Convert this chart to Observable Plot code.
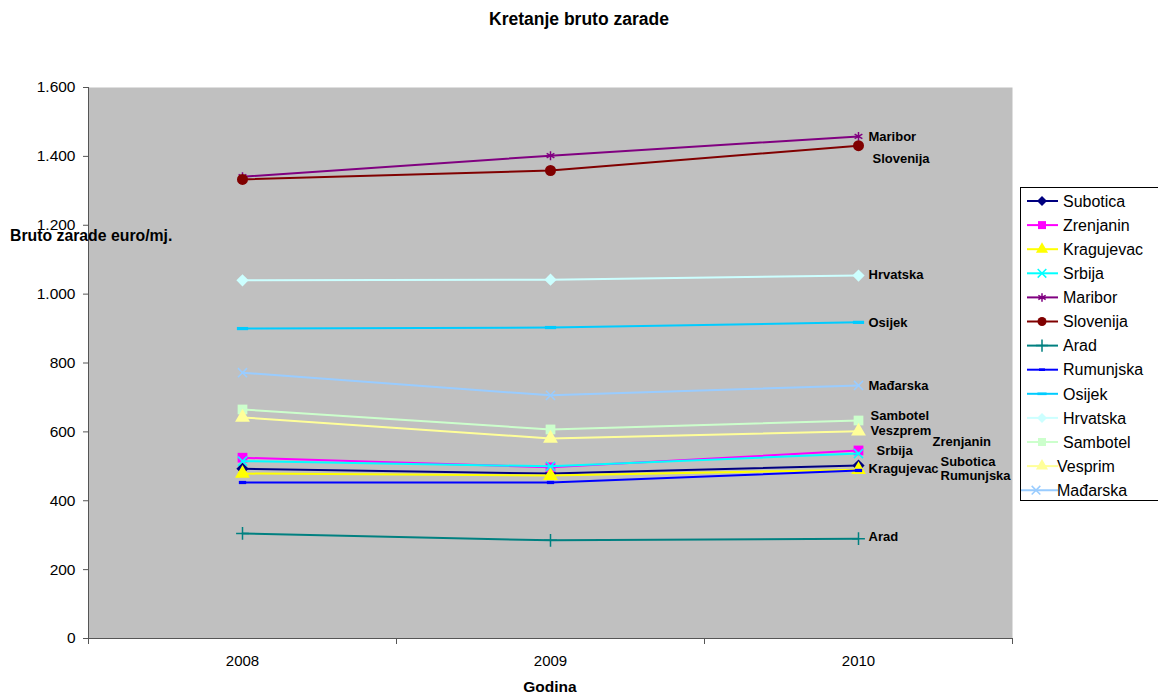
<!DOCTYPE html>
<html><head><meta charset="utf-8">
<script src="https://cdn.jsdelivr.net/npm/d3@7"></script>
<script src="https://cdn.jsdelivr.net/npm/@observablehq/plot@0.6"></script>
<style>
body{margin:0;background:#fff;font-family:"Liberation Sans",Arial,sans-serif;color:#000;}
#wrap{position:relative;width:1158px;height:696px;overflow:hidden;background:#fff;}
#chart{position:absolute;left:0;top:0;}
.title{position:absolute;left:0;width:1158px;top:9px;text-align:center;font-weight:bold;font-size:17.5px;}
.ylab{position:absolute;left:10px;top:227px;font-weight:bold;font-size:15.8px;white-space:nowrap;}
.xlab{position:absolute;left:450px;width:200px;top:678px;text-align:center;font-weight:bold;font-size:15.5px;}
#legend{position:absolute;left:1020px;top:187px;}
</style></head><body>
<div id="wrap">
<div id="chart"></div>
<div class="title">Kretanje bruto zarade</div>
<div class="ylab">Bruto zarade euro/mj.</div>
<div class="xlab">Godina</div>
<div id="legend"></div>
</div>
<script>
// ---- data ----
const years = [2008, 2009, 2010];
const seriesNames = ["Subotica","Zrenjanin","Kragujevac","Srbija","Maribor","Slovenija","Arad","Rumunjska","Osijek","Hrvatska","Sambotel","Vesprim","Mađarska"];
const pointLabels = ["Subotica","Zrenjanin","Kragujevac","Srbija","Maribor","Slovenija","Arad","Rumunjska","Osijek","Hrvatska","Sambotel","Veszprem","Mađarska"];
const subotica   = [493, 479, 502];
const zrenjanin  = [525, 497, 546];
const kragujevac = [479, 473, 490];
const srbija     = [515, 500, 537];
const maribor    = [1341, 1402, 1458];
const slovenija  = [1333, 1359, 1431];
const arad       = [305, 285, 290];
const rumunjska  = [453, 453, 488];
const osijek     = [900, 903, 918];
const hrvatska   = [1040, 1042, 1054];
const sambotel   = [665, 607, 633];
const vesprim    = [642, 581, 602];
const madjarska  = [772, 706, 735];
const yTicks = [0, 200, 400, 600, 800, 1000, 1200, 1400, 1600];
const seriesValues = [subotica, zrenjanin, kragujevac, srbija, maribor, slovenija, arad, rumunjska, osijek, hrvatska, sambotel, vesprim, madjarska];

// ---- styles ----
const colors = ["#000080","#FF00FF","#FFFF00","#00FFFF","#800080","#800000","#008080","#0000FF","#00CCFF","#CCFFFF","#CCFFCC","#FFFF99","#99CCFF"];
const dashShort = {draw(ctx, size){ const s = Math.sqrt(size); const w = s*0.75, h = s*0.33; ctx.rect(-w/2, -h/2, w, h); }};
const dashLong  = {draw(ctx, size){ const s = Math.sqrt(size); const w = s*1.15, h = s*0.33; ctx.rect(-w/2, -h/2, w, h); }};
const symbols = ["diamond2","square","triangle","times","asterisk","circle","plus",dashShort,dashLong,"diamond2","square","triangle","times"];
const filled  = [true,true,true,false,false,true,false,true,true,true,true,true,false];
const labelOffsets = [[82,-4],[74,-9],[10,-1],[18,-3],[10,0],[14,13],[10,-2],[82,5],[10,0],[10,-1],[12,-5],[12,0],[10,0]];

const fmt = d3.formatLocale({decimal: ",", thousands: ".", grouping: [3], currency: ["", ""]}).format(",");

const marks = [
  Plot.frame({fill: "#C0C0C0", stroke: "none"}),
];
seriesNames.forEach((name, i) => {
  const rows = years.map((y, j) => ({year: y, value: seriesValues[i][j], label: pointLabels[i]}));
  marks.push(Plot.line(rows, {x: "year", y: "value", stroke: colors[i], strokeWidth: 2}));
  marks.push(Plot.dot(rows, filled[i]
    ? {x: "year", y: "value", symbol: () => symbols[i], r: 5.5, fill: colors[i], stroke: "none"}
    : {x: "year", y: "value", symbol: () => symbols[i], r: 4.2, fill: "none", stroke: colors[i], strokeWidth: 1.5}));
});
seriesNames.forEach((name, i) => {
  const last = [{year: years[2], value: seriesValues[i][2], label: pointLabels[i]}];
  marks.push(Plot.text(last, {x: "year", y: "value", text: "label", dx: labelOffsets[i][0], dy: labelOffsets[i][1],
    textAnchor: "start", fontWeight: "bold", fontSize: 13, fill: "#000"}));
});
marks.push(
  Plot.ruleX([2007.5], {stroke: "#555", strokeWidth: 1}),
  Plot.ruleY([0], {stroke: "#555", strokeWidth: 1}),
  Plot.axisY({ticks: yTicks, tickFormat: fmt, tickSize: 5, tickPadding: 8, fontSize: 15.5, label: null, stroke: "#555"}),
  Plot.axisX({ticks: years, tickSize: 0, tickPadding: 17, tickFormat: d => String(d), fontSize: 15, label: null}),
  Plot.axisX({ticks: [2007.5, 2008.5, 2009.5, 2010.5], tickSize: 6, tickFormat: () => "", label: null, stroke: "#555"})
);

const chart = Plot.plot({
  width: 1158, height: 696,
  marginLeft: 88, marginRight: 146, marginTop: 87, marginBottom: 58,
  x: {domain: [2007.5, 2010.5]},
  y: {domain: [0, 1600]},
  style: {fontFamily: "'Liberation Sans', Arial, sans-serif", background: "transparent", color: "#000"},
  marks
});
document.getElementById("chart").appendChild(chart);

// ---- legend ----
const symMap = {diamond2: d3.symbolDiamond2, square: d3.symbolSquare, triangle: d3.symbolTriangle, times: d3.symbolTimes, asterisk: d3.symbolAsterisk, circle: d3.symbolCircle, plus: d3.symbolPlus};
const lg = d3.select("#legend").append("svg").attr("width", 140).attr("height", 315);
lg.append("rect").attr("x", 0.5).attr("y", 0.5).attr("width", 150).attr("height", 313).attr("fill", "#fff").attr("stroke", "#000");
seriesNames.forEach((name, i) => {
  const cy = 14 + i * 24.1;
  const shift = i === 11 ? -6 : i === 12 ? -6 : 0;
  const x0 = i === 12 ? 1 : 7;
  const g = lg.append("g");
  g.append("line").attr("x1", x0).attr("x2", 38).attr("y1", cy).attr("y2", cy).attr("stroke", colors[i]).attr("stroke-width", 2);
  const s = symbols[i];
  const type = typeof s === "string" ? symMap[s] : s;
  const size = Math.PI * (filled[i] ? 4.5 * 4.5 : 4 * 4);
  const mx = i === 12 ? 16 : 22;
  g.append("path").attr("d", d3.symbol(type, size)()).attr("transform", `translate(${mx},${cy})`)
    .attr("fill", filled[i] ? colors[i] : "none").attr("stroke", filled[i] ? "none" : colors[i]).attr("stroke-width", 1.5);
  g.append("text").attr("x", 43 + shift).attr("y", cy).attr("dy", "0.36em").attr("font-size", 16)
    .attr("font-family", "'Liberation Sans', Arial, sans-serif").text(name);
});
</script>
</body></html>
